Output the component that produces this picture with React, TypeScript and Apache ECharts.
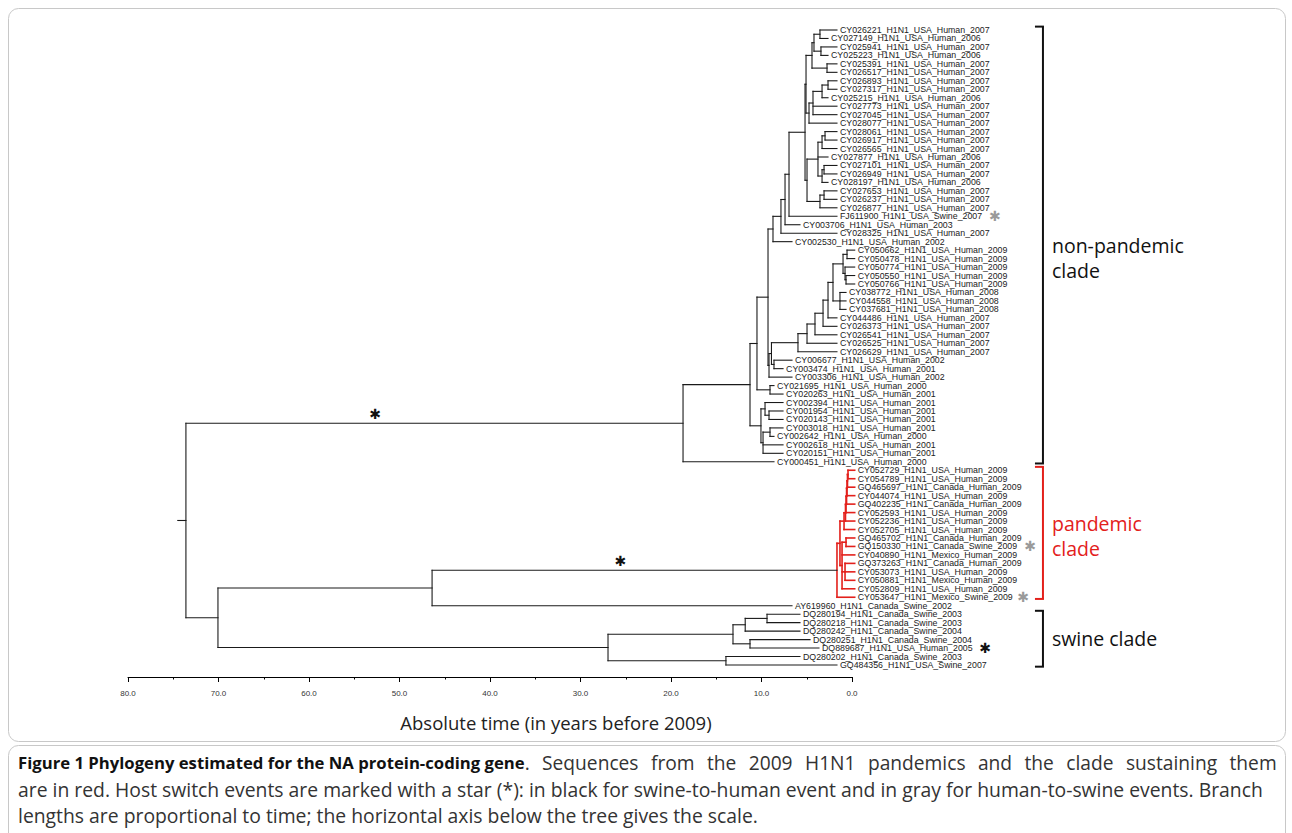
import React, { useEffect, useRef } from "react";
import * as echarts from "echarts";

// ---------- DATA ----------
const leafNames: string[] = [
  "CY026221_H1N1_USA_Human_2007", "CY027149_H1N1_USA_Human_2006", "CY025941_H1N1_USA_Human_2007", "CY025223_H1N1_USA_Human_2006",
  "CY025391_H1N1_USA_Human_2007", "CY026517_H1N1_USA_Human_2007", "CY026893_H1N1_USA_Human_2007", "CY027317_H1N1_USA_Human_2007",
  "CY025215_H1N1_USA_Human_2006", "CY027773_H1N1_USA_Human_2007", "CY027045_H1N1_USA_Human_2007", "CY028077_H1N1_USA_Human_2007",
  "CY028061_H1N1_USA_Human_2007", "CY026917_H1N1_USA_Human_2007", "CY026565_H1N1_USA_Human_2007", "CY027877_H1N1_USA_Human_2006",
  "CY027101_H1N1_USA_Human_2007", "CY026949_H1N1_USA_Human_2007", "CY028197_H1N1_USA_Human_2006", "CY027653_H1N1_USA_Human_2007",
  "CY026237_H1N1_USA_Human_2007", "CY026877_H1N1_USA_Human_2007", "FJ611900_H1N1_USA_Swine_2007", "CY003706_H1N1_USA_Human_2003",
  "CY028325_H1N1_USA_Human_2007", "CY002530_H1N1_USA_Human_2002", "CY050662_H1N1_USA_Human_2009", "CY050478_H1N1_USA_Human_2009",
  "CY050774_H1N1_USA_Human_2009", "CY050550_H1N1_USA_Human_2009", "CY050766_H1N1_USA_Human_2009", "CY038772_H1N1_USA_Human_2008",
  "CY044558_H1N1_USA_Human_2008", "CY037681_H1N1_USA_Human_2008", "CY044486_H1N1_USA_Human_2007", "CY026373_H1N1_USA_Human_2007",
  "CY026541_H1N1_USA_Human_2007", "CY026525_H1N1_USA_Human_2007", "CY026629_H1N1_USA_Human_2007", "CY006677_H1N1_USA_Human_2002",
  "CY003474_H1N1_USA_Human_2001", "CY003306_H1N1_USA_Human_2002", "CY021695_H1N1_USA_Human_2000", "CY020263_H1N1_USA_Human_2001",
  "CY002394_H1N1_USA_Human_2001", "CY001954_H1N1_USA_Human_2001", "CY020143_H1N1_USA_Human_2001", "CY003018_H1N1_USA_Human_2001",
  "CY002642_H1N1_USA_Human_2000", "CY002618_H1N1_USA_Human_2001", "CY020151_H1N1_USA_Human_2001", "CY000451_H1N1_USA_Human_2000",
  "CY052729_H1N1_USA_Human_2009", "CY054789_H1N1_USA_Human_2009", "GQ465697_H1N1_Canada_Human_2009", "CY044074_H1N1_USA_Human_2009",
  "GQ402235_H1N1_Canada_Human_2009", "CY052593_H1N1_USA_Human_2009", "CY052236_H1N1_USA_Human_2009", "CY052705_H1N1_USA_Human_2009",
  "GQ465702_H1N1_Canada_Human_2009", "GQ150330_H1N1_Canada_Swine_2009", "CY040890_H1N1_Mexico_Human_2009", "GQ373263_H1N1_Canada_Human_2009",
  "CY053073_H1N1_USA_Human_2009", "CY050881_H1N1_Mexico_Human_2009", "CY052809_H1N1_USA_Human_2009", "CY053647_H1N1_Mexico_Swine_2009",
  "AY619960_H1N1_Canada_Swine_2002", "DQ280194_H1N1_Canada_Swine_2003", "DQ280218_H1N1_Canada_Swine_2003", "DQ280242_H1N1_Canada_Swine_2004",
  "DQ280251_H1N1_Canada_Swine_2004", "DQ889687_H1N1_USA_Human_2005", "DQ280202_H1N1_Canada_Swine_2003", "GQ484356_H1N1_USA_Swine_2007",
];

// tip ages (years before 2009)
const leafAges: number[] = [
  1.66, 2.65, 1.66, 2.65, 1.66, 1.66, 1.66, 1.66,
  2.65, 1.66, 1.66, 1.66, 1.66, 1.66, 1.66, 2.65,
  1.66, 1.66, 2.65, 1.66, 1.66, 1.66, 1.66, 5.75,
  1.66, 6.63, -0.3, -0.3, -0.3, -0.3, -0.3, 0.66,
  0.66, 0.66, 1.66, 1.66, 1.66, 1.66, 1.66, 6.63,
  7.62, 6.63, 8.62, 7.62, 7.62, 7.62, 7.62, 7.62,
  8.62, 7.62, 7.62, 8.62,
  -0.3, -0.3, -0.3, -0.3, -0.3, -0.3, -0.3, -0.3,
  -0.3, -0.3, -0.3, -0.3, -0.3, -0.3, -0.3, -0.3,
  6.63, 5.75, 5.75, 5.75, 4.64, 3.65, 5.75, 1.66,
];

// internal nodes: [name, age (years before 2009), children (leaf index or node name)]
const treeNodes: [string, number, (number | string)[]][] = [
  ["a1", 3.54, [0, 1]],
  ["a2", 3.43, [2, 3]],
  ["a3", 4.2, ["a1", "a2"]],
  ["a4", 2.76, [4, 5]],
  ["a5", 4.42, ["a3", "a4"]],
  ["b1", 2.65, [6, 7]],
  ["b2", 3.31, ["b1", 8]],
  ["b3", 4.31, ["b2", 9, 10]],
  ["b4", 4.75, ["b3", 11]],
  ["ueTop", 5.08, ["a5", "b4"]],
  ["g1", 2.98, [12, 13]],
  ["g2", 3.31, ["g1", 14]],
  ["g3", 3.09, [16, 17]],
  ["g4", 3.31, ["g3", 18]],
  ["g5", 3.76, ["g2", 15, "g4"]],
  ["g6", 3.09, [19, 20]],
  ["g7", 3.54, ["g6", 21]],
  ["g8", 4.97, ["g5", "g7"]],
  ["X", 5.19, ["ueTop", "g8"]],
  ["Ud", 6.96, ["X", 22]],
  ["Uc", 7.4, ["Ud", 23]],
  ["Ub", 7.85, ["Uc", 24]],
  ["Ua", 8.73, ["Ub", 25]],
  ["l09a", 0.55, [26, 27]],
  ["l09b", 0.66, [29, 30]],
  ["l09c", 0.77, [28, "l09b"]],
  ["l8", 0.99, ["l09a", "l09c"]],
  ["l9", 1.33, [31, 32, 33]],
  ["l7", 2.1, ["l8", "l9"]],
  ["l6", 2.65, ["l7", 34]],
  ["l5", 3.2, ["l6", 35]],
  ["l4", 4.09, ["l5", 36]],
  ["l3", 4.97, ["l4", 37]],
  ["l2", 5.97, ["l3", 38]],
  ["lx", 8.62, [39, 40]],
  ["l1", 8.9, ["l2", "lx"]],
  ["l0", 9.17, ["l1", 41]],
  ["M", 9.28, ["Ua", "l0"]],
  ["n770", 9.06, [42, 43]],
  ["n757", 10.5, ["M", "n770"]],
  ["ga1", 9.17, [45, 46]],
  ["ga", 9.61, [44, "ga1"]],
  ["gb1", 9.06, [47, 48]],
  ["gb", 9.83, ["gb1", 49, 50]],
  ["g2000", 10.06, ["ga", "gb"]],
  ["NP1", 11.27, ["n757", "g2000"]],
  ["NP0", 18.67, ["NP1", 51]],
  ["pa1", 0.44, [52, 53]],
  ["pa2", 0.5, ["pa1", 54]],
  ["pa3", 0.55, ["pa2", 55]],
  ["pa4", 0.6, ["pa3", 56]],
  ["pa5", 0.66, ["pa4", 57]],
  ["pa6", 0.72, ["pa5", 58]],
  ["PA", 0.88, ["pa6", 59]],
  ["pb1", 0.66, [60, 61]],
  ["pb2", 0.77, [63, 64, 65]],
  ["PB", 1.1, ["pb1", 62, "pb2", 66]],
  ["P1", 1.33, ["PA", "PB"]],
  ["P0", 1.66, ["P1", 67]],
  ["s1", 9.39, [69, 70]],
  ["s2", 11.8, ["s1", 71]],
  ["s3", 11.27, [72, 73]],
  ["s4", 13.15, ["s2", "s3"]],
  ["s5", 13.93, [74, 75]],
  ["S0", 26.96, ["s4", "s5"]],
  ["N432", 46.4, ["P0", 68]],
  ["N218", 70.06, ["N432", "S0"]],
  ["root", 73.6, ["NP0", "N218"]],
];
const rootName = "root";
const rootStubAge = 74.5;
const pandemicCladeNode = "P0";

// host-switch stars: leaf stars [leaf index, age position, colour], branch stars [age, node whose stem carries it]
const leafStars: [number, number, string][] = [
  [22, -15.8, "#9a9a9a"],
  [61, -19.67, "#9a9a9a"],
  [67, -18.9, "#9a9a9a"],
  [73, -14.7, "#111111"],
];
const branchStars: [number, string][] = [
  [52.7, "NP0"],
  [25.6, "P0"],
];

// clade brackets: label, first leaf, last leaf, colour, label shift (leaf units)
const clades: [string, number, number, string, number][] = [
  ["non-pandemic\nclade", 0, 51, "#111111", 1.5],
  ["pandemic\nclade", 52, 67, "#e3201b", 0.35],
  ["swine clade", 69, 75, "#111111", 0],
];
const bracketAge = -21.1;

const xMin = 0;
const xMax = 80;
const xInterval = 10;
const yMax = 76.42;

const axisTitle = "Absolute time (in years before 2009)";
const captionBold = "Figure 1 Phylogeny estimated for the NA protein-coding gene";
const captionLine1Words = [".", "Sequences", "from", "the", "2009", "H1N1", "pandemics", "and", "the", "clade", "sustaining", "them"];
const captionLines = [
  "are in red. Host switch events are marked with a star (*): in black for swine-to-human event and in gray for human-to-swine events. Branch",
  "lengths are proportional to time; the horizontal axis below the tree gives the scale.",
];

// ---------- LAYOUT ----------
const RED = "#e3201b";
const BLACK = "#1a1a1a";
const nodeMap = new Map<string, [string, number, (number | string)[]]>();
treeNodes.forEach((n) => nodeMap.set(n[0], n));

const yCache = new Map<string, number>();
function yOf(c: number | string): number {
  if (typeof c === "number") return c;
  if (yCache.has(c)) return yCache.get(c)!;
  const ch = nodeMap.get(c)![2];
  const v = (yOf(ch[0]) + yOf(ch[ch.length - 1])) / 2;
  yCache.set(c, v);
  return v;
}
function ageOf(c: number | string): number {
  return typeof c === "number" ? leafAges[c] : nodeMap.get(c)![1];
}
const pandemicSet = new Set<string>();
(function mark(n: string) {
  pandemicSet.add(n);
  nodeMap.get(n)![2].forEach((c) => {
    if (typeof c === "string") mark(c);
  });
})(pandemicCladeNode);

const segments: number[][] = [];
treeNodes.forEach(([name, age, ch]) => {
  const col = pandemicSet.has(name) ? 1 : 0;
  segments.push([age, yOf(ch[0]), age, yOf(ch[ch.length - 1]), col]);
  ch.forEach((c) => segments.push([age, yOf(c), ageOf(c), yOf(c), col]));
});
segments.push([rootStubAge, yOf(rootName), ageOf(rootName), yOf(rootName), 0]);

const leafData = leafNames.map((_, i) => [leafAges[i], i]);
const leafStarData = leafStars.map((s) => [s[1], s[0]]);
const branchStarData = branchStars.map((s) => [s[0], yOf(s[1])]);
const bracketData = clades.map((c) => [bracketAge, c[1] - 0.4, c[2] + 0.2]);

// justified first caption line (rich text with widened spaces)
const line1Rich =
  "{b|" + captionBold + "}{n|" + captionLine1Words[0] + "}" +
  captionLine1Words.slice(1).map((w) => "{sp| }{n|" + w + "}").join("");

export default function App() {
  const ref = useRef<HTMLDivElement>(null);
  useEffect(() => {
    const chart = echarts.init(ref.current!, undefined, { renderer: "svg" });
    const option: any = {
      animation: false,
      backgroundColor: "#ffffff",
      grid: { left: 128, top: 30, width: 724, height: 647, containLabel: false },
      xAxis: {
        type: "value",
        position: "bottom",
        inverse: true,
        min: xMin,
        max: xMax,
        interval: xInterval,
        splitLine: { show: false },
        axisLine: { show: true, onZero: false, lineStyle: { color: "#000", width: 1 } },
        axisTick: { show: true, length: 5, lineStyle: { color: "#000" } },
        minorTick: { show: true, splitNumber: 2, length: 2.5, lineStyle: { color: "#000" } },
        axisLabel: {
          formatter: (v: number) => v.toFixed(1),
          fontSize: 8,
          color: "#333",
          margin: 12,
          fontFamily: "Liberation Sans",
        },
      },
      yAxis: { type: "value", inverse: true, min: 0, max: yMax, show: false },
      series: [
        {
          type: "custom",
          name: "branches",
          data: segments,
          silent: true,
          renderItem: (_p: any, api: any) => {
            const a = api.coord([api.value(0), api.value(1)]);
            const b = api.coord([api.value(2), api.value(3)]);
            const red = api.value(4) === 1;
            return {
              type: "line",
              shape: { x1: a[0], y1: a[1], x2: b[0], y2: b[1] },
              style: { stroke: red ? RED : BLACK, lineWidth: red ? 1.6 : 1.1, lineCap: "square" },
            };
          },
        },
        {
          type: "custom",
          name: "tips",
          data: leafData,
          silent: true,
          renderItem: (p: any, api: any) => {
            const a = api.coord([api.value(0), api.value(1)]);
            return {
              type: "text",
              style: {
                text: leafNames[p.dataIndex],
                x: a[0] + 3,
                y: a[1],
                fontSize: 8.8,
                fontFamily: "Liberation Sans",
                fill: "#222",
                verticalAlign: "middle",
                align: "left",
              },
            };
          },
        },
        {
          type: "custom",
          name: "leafStars",
          data: leafStarData,
          silent: true,
          renderItem: (p: any, api: any) => {
            const a = api.coord([api.value(0), api.value(1)]);
            return {
              type: "text",
              style: {
                text: "\u2731",
                x: a[0],
                y: a[1],
                fontSize: 14,
                fontFamily: "DejaVu Sans",
                fill: leafStars[p.dataIndex][2],
                align: "center",
                verticalAlign: "middle",
              },
            };
          },
        },
        {
          type: "custom",
          name: "branchStars",
          data: branchStarData,
          silent: true,
          renderItem: (_p: any, api: any) => {
            const a = api.coord([api.value(0), api.value(1)]);
            return {
              type: "text",
              style: {
                text: "\u2731",
                x: a[0],
                y: a[1] - 9,
                fontSize: 14,
                fontFamily: "DejaVu Sans",
                fill: "#111",
                align: "center",
                verticalAlign: "middle",
              },
            };
          },
        },
        {
          type: "custom",
          name: "clades",
          data: bracketData,
          silent: true,
          renderItem: (p: any, api: any) => {
            const top = api.coord([api.value(0), api.value(1)]);
            const bot = api.coord([api.value(0), api.value(2)]);
            const c = clades[p.dataIndex];
            const col = c[3];
            const mid = api.coord([api.value(0), (api.value(1) + api.value(2)) / 2 + c[4]]);
            const x = top[0];
            return {
              type: "group",
              children: [
                { type: "line", shape: { x1: x, y1: top[1], x2: x, y2: bot[1] }, style: { stroke: col, lineWidth: 2 } },
                { type: "line", shape: { x1: x - 8, y1: top[1], x2: x + 1, y2: top[1] }, style: { stroke: col, lineWidth: 2 } },
                { type: "line", shape: { x1: x - 8, y1: bot[1], x2: x + 1, y2: bot[1] }, style: { stroke: col, lineWidth: 2 } },
                {
                  type: "text",
                  style: {
                    text: c[0],
                    x: x + 9,
                    y: mid[1],
                    fontSize: 19.5,
                    lineHeight: 25,
                    fontFamily: "Open Sans",
                    fill: col,
                    align: "left",
                    verticalAlign: "middle",
                  },
                },
              ],
            };
          },
        },
      ],
      graphic: [
        {
          type: "rect",
          silent: true,
          shape: { x: 8.5, y: 8.5, width: 1277, height: 733, r: 10 },
          style: { fill: "none", stroke: "#c8c8c8", lineWidth: 1 },
        },
        {
          type: "rect",
          silent: true,
          shape: { x: 8.5, y: 745.5, width: 1277, height: 120, r: 10 },
          style: { fill: "none", stroke: "#c8c8c8", lineWidth: 1 },
        },
        {
          type: "text",
          x: 556,
          y: 722,
          style: {
            text: axisTitle,
            fontFamily: "Open Sans",
            fontSize: 18.5,
            fill: "#222",
            align: "center",
            verticalAlign: "middle",
          },
        },
        {
          type: "text",
          x: 18,
          y: 762,
          style: {
            text: line1Rich,
            verticalAlign: "middle",
            rich: {
              b: { fontFamily: "Open Sans", fontSize: 16.7, fontWeight: "bold", fill: "#111" },
              n: { fontFamily: "Open Sans", fontSize: 19.2, fill: "#333" },
              sp: { fontFamily: "Open Sans", fontSize: 19.2, width: 12.4 },
            },
          },
        },
        {
          type: "text",
          x: 18,
          y: 789,
          style: { text: captionLines[0], fontFamily: "Open Sans", fontSize: 19.35, fill: "#333", verticalAlign: "middle" },
        },
        {
          type: "text",
          x: 18,
          y: 815,
          style: { text: captionLines[1], fontFamily: "Open Sans", fontSize: 19.35, fill: "#333", verticalAlign: "middle" },
        },
      ],
    };
    chart.setOption(option);
    return () => chart.dispose();
  }, []);
  return (
    <div
      ref={ref}
      style={{ position: "absolute", left: 0, top: 0, width: 1292, height: 833, background: "#fff" }}
    />
  );
}
